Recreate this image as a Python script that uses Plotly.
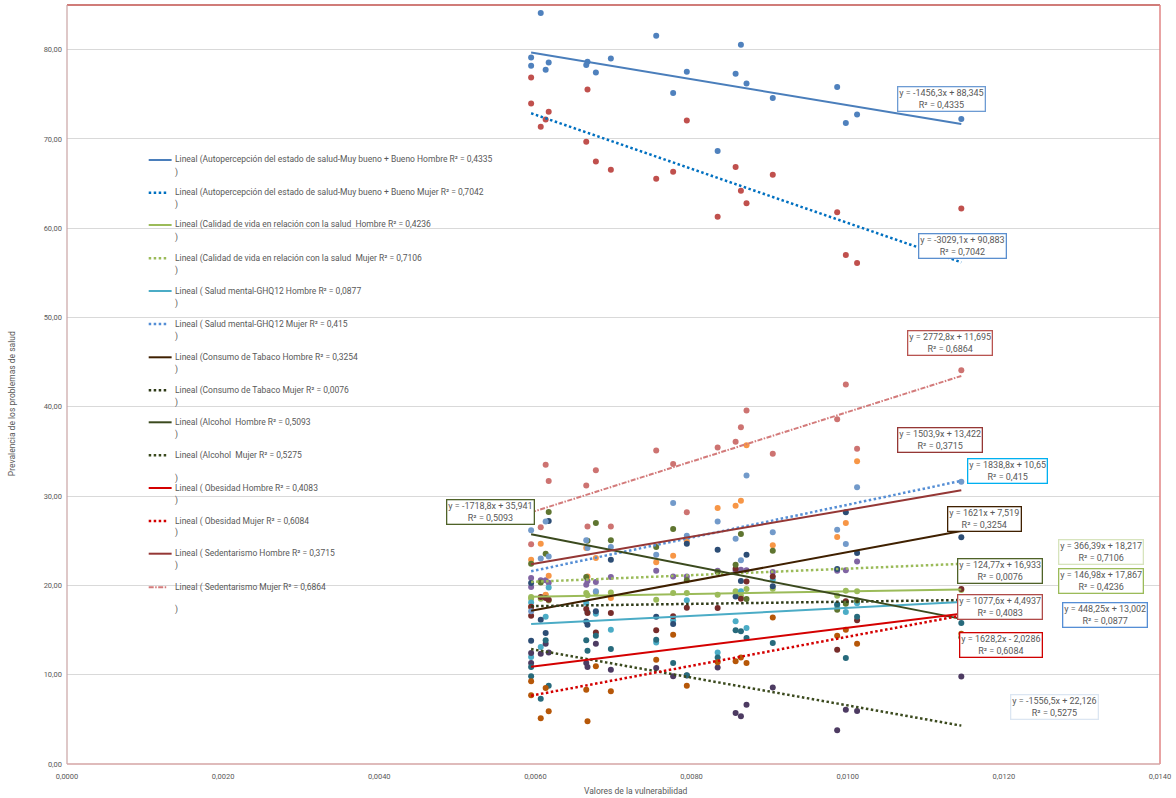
import plotly.graph_objects as go

# ---------------- data ----------------
x_vuln = [0.005945, 0.005945, 0.006068, 0.006131, 0.006170, 0.006651, 0.006667,
          0.006774, 0.006966, 0.007547, 0.007764, 0.007939, 0.008334, 0.008564,
          0.008632, 0.008704, 0.009040, 0.009865, 0.009976, 0.010120, 0.011455]

autoperc_h = [79.13, 78.20, 84.10, 77.75, 78.57, 78.28, 78.65, 77.45, 79.01, 81.56, 75.14,
              77.53, 68.65, 77.30, 80.55, 76.22, 74.58, 75.81, 71.78, 72.74, 72.23]
autoperc_m = [76.88, 73.97, 71.37, 72.18, 73.05, 69.69, 75.54, 67.48, 66.55, 65.54, 66.33,
              72.07, 61.30, 66.85, 64.20, 62.80, 66.00, 61.80, 57.00, 56.10, 62.20]
calidad_h = [18.70, 18.50, 18.50, 18.90, 18.30, 19.15, 18.90, 19.20, 19.22, 18.40, 19.15,
             19.15, 18.96, 19.34, 18.85, 19.60, 19.63, 18.85, 19.41, 19.34, 19.50]
calidad_m = [20.83, 19.82, 20.57, 20.57, 20.30, 20.08, 20.50, 20.38, 20.94, 21.65, 21.01,
             21.00, 21.65, 21.65, 21.76, 21.69, 21.50, 21.65, 21.69, 22.69, 21.90]
salud_h = [18.10, 11.98, 13.10, 16.50, 19.78, 18.03, 17.00, 16.83, 15.04, 13.62, 16.10,
           18.33, 12.50, 15.98, 19.34, 15.23, 20.64, 17.73, 17.02, 18.00, 17.30]
salud_m = [22.88, 17.58, 24.67, 18.96, 21.09, 24.19, 21.00, 23.07, 18.59, 22.58, 23.33,
           24.94, 28.67, 28.93, 29.49, 35.70, 24.50, 25.42, 26.99, 33.90, 26.30]
tabaco_h = [20.27, 13.81, 16.16, 14.67, 27.20, 15.97, 15.60, 17.10, 22.88, 16.50, 15.68,
            24.67, 24.00, 18.77, 20.50, 23.44, 19.90, 21.84, 28.20, 23.63, 25.40]
tabaco_m = [16.61, 17.60, 18.70, 18.59, 18.40, 17.36, 16.91, 14.74, 16.91, 14.97, 16.54,
            17.50, 17.47, 21.87, 18.50, 20.45, 21.00, 12.80, 18.22, 16.09, 19.60]
alcohol_h = [28.18, 22.43, 20.34, 23.55, 28.22, 20.94, 25.00, 26.99, 25.05, 24.30, 26.32,
             20.57, 21.50, 22.32, 25.76, 18.48, 23.89, 17.28, 17.96, 18.30, 14.20]
alcohol_m = [12.43, 11.31, 12.36, 13.47, 12.50, 11.31, 10.86, 13.47, 10.56, 10.75, 9.82,
             9.90, 10.82, 5.71, 5.34, 6.64, 8.58, 3.77, 6.08, 5.93, 9.80]
obesidad_h = [10.86, 9.82, 7.32, 13.85, 8.77, 13.85, 12.69, 14.37, 12.88, 13.92, 11.31,
              9.93, 11.94, 14.97, 14.86, 14.11, 13.55, 17.90, 11.87, 16.50, 15.80]
obesidad_m = [9.26, 7.69, 5.11, 8.50, 5.90, 8.32, 4.78, 10.94, 8.14, 11.68, 14.48,
              8.77, 11.39, 11.50, 11.94, 11.31, 16.42, 14.37, 15.04, 13.47, 14.60]
sedent_h = [26.17, 17.10, 23.00, 27.17, 23.25, 25.05, 24.19, 19.34, 24.30, 23.44, 29.23,
            25.57, 27.17, 25.23, 22.81, 32.30, 25.94, 26.24, 24.64, 31.00, 31.60]
sedent_m = [29.10, 24.60, 26.50, 33.50, 31.70, 31.20, 26.60, 32.90, 26.60, 35.10, 33.60,
            28.20, 35.45, 36.10, 37.70, 39.60, 34.75, 38.60, 42.50, 35.30, 44.10]

series_names = [
    "Autopercepción del estado de salud-Muy bueno + Bueno Hombre",
    "Autopercepción del estado de salud-Muy bueno + Bueno Mujer",
    "Calidad de vida en relación con la salud  Hombre",
    "Calidad de vida en relación con la salud  Mujer",
    " Salud mental-GHQ12 Hombre",
    " Salud mental-GHQ12 Mujer",
    "Consumo de Tabaco Hombre",
    "Consumo de Tabaco Mujer",
    "Alcohol  Hombre",
    "Alcohol  Mujer",
    " Obesidad Hombre",
    " Obesidad Mujer",
    " Sedentarismo Hombre",
    " Sedentarismo Mujer",
]
series_values = [autoperc_h, autoperc_m, calidad_h, calidad_m, salud_h, salud_m,
                 tabaco_h, tabaco_m, alcohol_h, alcohol_m, obesidad_h, obesidad_m,
                 sedent_h, sedent_m]

trend_slope = [-1456.3, -3029.1, 146.98, 366.39, 448.25, 1838.8, 1621, 124.77,
               -1718.8, -1556.5, 1077.6, 1628.2, 1503.9, 2772.8]
trend_intercept = [88.345, 90.883, 17.867, 18.217, 13.002, 10.65, 7.519, 16.933,
                   35.941, 22.126, 4.4937, -2.0286, 13.422, 11.695]
trend_r2 = [0.4335, 0.7042, 0.4236, 0.7106, 0.0877, 0.415, 0.3254, 0.0076,
            0.5093, 0.5275, 0.4083, 0.6084, 0.3715, 0.6864]

y_ticks = [0, 10, 20, 30, 40, 50, 60, 70, 80]

# ---------------- styles ----------------
W, H = 1176, 798
L, R, T, B = 67, 12, 5, 34

marker_colors = ["#4F81BD", "#C0504D", "#9BBB59", "#8064A2", "#4BACC6", "#F79646",
                 "#2C4D75", "#772C2A", "#5F7530", "#4D3B62", "#276A7C", "#B65708",
                 "#729ACA", "#CD7371"]
trend_colors = ["#4A7EBB", "#0070C0", "#9BBB59", "#9BBB59", "#4BACC6", "#558ED5",
                "#3F2000", "#2E3A17", "#3B4A1E", "#3B4A1E", "#D40000", "#D40000",
                "#953735", "#D37B7B"]
DOT = "2.5px,2.5px"
trend_dash = ["solid", DOT, "solid", DOT, "solid", DOT, "solid", DOT,
              "solid", DOT, "solid", DOT, "solid", "5px,1.5px,1.5px,1.5px"]
trend_width = [2, 2.5, 2, 2.5, 2, 2.5, 2, 2.5, 2, 2.5, 2, 2.5, 2, 2]

# equation label boxes (pixel centres) and border colours
box_pos = [(945, 99), (966, 246), (1105, 581), (1105, 552), (1109, 615), (1011, 471),
           (988, 519), (1003, 571), (492, 512), (1058, 707), (1003, 607), (1004, 645),
           (943, 440), (953, 343)]
box_border = ["#6D9BD3", "#5B8FCF", "#9BBB59", "#D7E4BD", "#558ED5", "#00B0F0",
              "#3F2000", "#4F6228", "#4F6228", "#DCE6F2", "#B04A48", "#D00000",
              "#953735", "#B85450"]

# legend rows (pixel y of text line) and offset of the ")" line
legend_y = [160, 192.7, 225, 258.3, 291, 324, 357.3, 390.3, 422.3, 455.3, 488, 521, 553.7, 587.3]
legend_paren = [12, 12, 12.5, 12, 12, 12, 12, 12, 12, 23, 12.5, 11.5, 12, 22]

PW = W - L - R
PH = H - T - B


def px(xp):
    return (xp - L) / PW


def py(yp):
    return (H - B - yp) / PH


def dec(v):
    s = str(v)
    if s.endswith(".0"):
        s = s[:-2]
    return s.replace(".", ",")


FONT = "Roboto, Open Sans, sans-serif"
GRAY = "#595959"

fig = go.Figure()

for name, vals, col in zip(series_names, series_values, marker_colors):
    fig.add_trace(go.Scatter(x=x_vuln, y=vals, mode="markers", name=name.strip(),
                             marker=dict(size=6, color=col), hoverinfo="x+y",
                             showlegend=False))

xmin, xmax = min(x_vuln), max(x_vuln)
for i in range(len(series_names)):
    a, b = trend_slope[i], trend_intercept[i]
    fig.add_trace(go.Scatter(x=[xmin, xmax], y=[a * xmin + b, a * xmax + b], mode="lines",
                             line=dict(color=trend_colors[i], width=trend_width[i],
                                       dash=trend_dash[i]),
                             hoverinfo="skip", showlegend=False))

annotations = []
shapes = []

# equation boxes
for i in range(len(series_names)):
    a, b = trend_slope[i], trend_intercept[i]
    sign = "+" if b >= 0 else "-"
    txt = f"y = {dec(a)}x {sign} {dec(abs(b))}<br>R² = {dec(trend_r2[i])}"
    cx, cy = box_pos[i]
    annotations.append(dict(x=px(cx), y=py(cy), xref="paper", yref="paper",
                            text=txt, showarrow=False, xanchor="center", yanchor="middle",
                            align="center", font=dict(family=FONT, size=9, color=GRAY),
                            bgcolor="white", bordercolor=box_border[i], borderwidth=1.3,
                            borderpad=1))

# custom legend
for i in range(len(series_names)):
    yy = legend_y[i]
    label = ("Lineal (" + series_names[i] + " R² = " + dec(trend_r2[i])).replace("  ", " \u00a0")
    annotations.append(dict(x=px(173), y=py(yy), xref="paper", yref="paper", text=label,
                            showarrow=False, xanchor="left", yanchor="middle",
                            font=dict(family=FONT, size=8.5, color=GRAY)))
    annotations.append(dict(x=px(173), y=py(yy + legend_paren[i]), xref="paper", yref="paper",
                            text=")", showarrow=False, xanchor="left", yanchor="middle",
                            font=dict(family=FONT, size=8.5, color=GRAY)))
    x1 = 172 if trend_dash[i] == "solid" else 168
    shapes.append(dict(type="line", xref="paper", yref="paper", x0=px(149), x1=px(x1),
                       y0=py(yy), y1=py(yy),
                       line=dict(color=trend_colors[i], width=trend_width[i], dash=trend_dash[i])))

# axis titles
annotations.append(dict(x=px(638), y=py(791), xref="paper", yref="paper",
                        text="Valores de la vulnerabilidad", showarrow=False,
                        xanchor="center", yanchor="middle",
                        font=dict(family=FONT, size=8.5, color=GRAY)))
annotations.append(dict(x=px(12), y=py(404), xref="paper", yref="paper",
                        text="Prevalencia de los problemas de salud", showarrow=False,
                        textangle=-90, xanchor="center", yanchor="middle",
                        font=dict(family=FONT, size=8.5, color=GRAY)))

# plot-area border
shapes.append(dict(type="line", xref="paper", yref="paper", x0=0, x1=1, y0=1, y1=1,
                   line=dict(color="#C0504D", width=1.5)))
shapes.append(dict(type="line", xref="paper", yref="paper", x0=1, x1=1, y0=0, y1=1,
                   line=dict(color="#E08585", width=1.5)))
shapes.append(dict(type="line", xref="paper", yref="paper", x0=0, x1=0, y0=0, y1=1,
                   line=dict(color="#C9A3A3", width=1.2)))
shapes.append(dict(type="line", xref="paper", yref="paper", x0=0, x1=1, y0=0, y1=0,
                   line=dict(color="#D4A5A5", width=1.5)))

fig.update_layout(
    width=W, height=H,
    margin=dict(l=L, r=R, t=T, b=B, pad=0),
    paper_bgcolor="white", plot_bgcolor="white",
    separators=",.",
    showlegend=False,
    annotations=annotations,
    shapes=shapes,
    font=dict(family=FONT, size=8, color=GRAY),
    xaxis=dict(range=[0, 0.014], dtick=0.002, tick0=0, tickformat=".4f",
               showgrid=False, zeroline=False, showline=False, ticks="",
               ticklabelstandoff=6,
               tickfont=dict(family=FONT, size=7.5, color=GRAY)),
    yaxis=dict(range=[0, 85], tickvals=y_ticks, tickformat=".2f",
               showgrid=True, gridcolor="#D9D9D9", gridwidth=1, zeroline=False,
               showline=False, ticks="", ticklabelstandoff=4,
               tickfont=dict(family=FONT, size=7.5, color=GRAY)),
)

fig.write_html("out.html", config={"displayModeBar": False},
               post_script="document.body.style.margin='0px';")
